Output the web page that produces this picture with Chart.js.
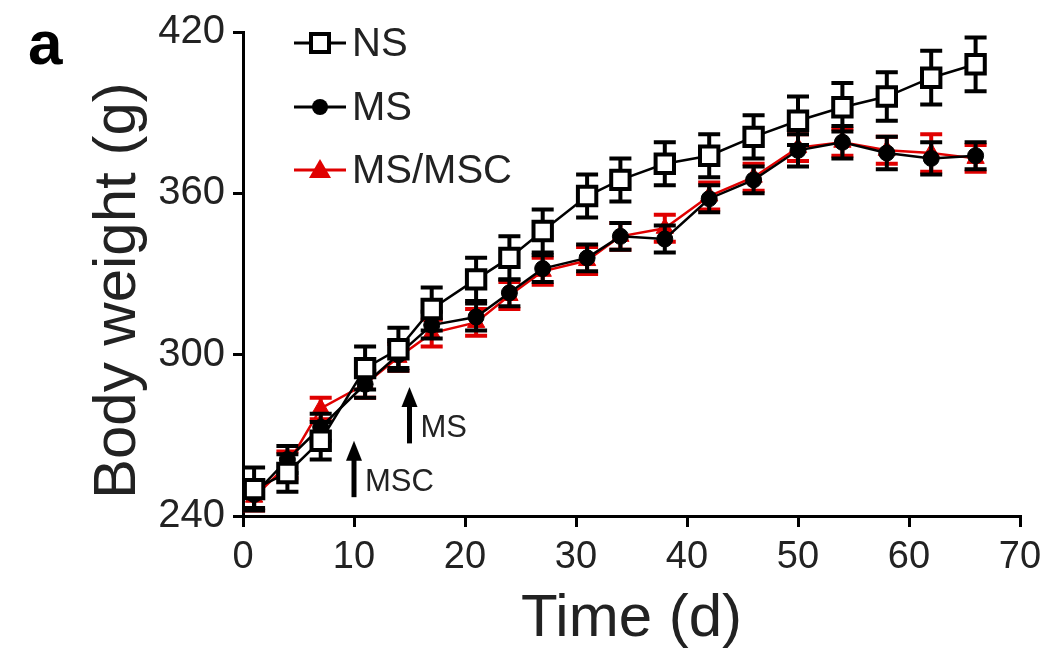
<!DOCTYPE html>
<html>
<head>
<meta charset="utf-8">
<script src="https://cdn.jsdelivr.net/npm/chart.js@4.4.1/dist/chart.umd.min.js"></script>
<style>
  body { margin: 0; background: #fff; }
  #wrap { width: 1053px; height: 657px; }
</style>
</head>
<body>
<div id="wrap"><canvas id="weightChart" width="1053" height="657"></canvas></div>
<script>
// body weight (g) by day
const days = [1, 4, 7, 11, 14, 17, 21, 24, 27, 31, 34, 38, 42, 46, 50, 54, 58, 62, 66];
const nsWeight = [250, 256, 268, 295, 302, 317, 328, 336, 346, 359, 365, 371, 374, 381, 387, 392, 396, 403, 408];
const nsErr = [8, 7, 7, 8, 8, 8, 8, 8, 8, 8, 8, 8, 8, 8, 9, 9, 9, 10, 10];
const msWeight = [248, 261, 273, 289, 300, 311, 314, 323, 332, 336, 344, 343, 358, 365, 376, 379, 375, 373, 374];
const msErr = [5, 5, 5, 5, 5, 5, 5, 5, 5, 5, 5, 5, 5, 5, 6, 6, 6, 6, 5];
const mscWeight = [247, 259, 280, 289, 299, 308, 312, 322, 331, 335, 344, 347, 359, 366, 377, 379, 376, 375, 373];
const mscErr = [5, 5, 4, 5, 5, 5, 5, 5, 5, 5, 5, 5, 5, 5, 5, 5, 5, 7, 5];

const xTicks = [0, 10, 20, 30, 40, 50, 60, 70];
const yTicks = [240, 300, 360, 420];

// treatment arrows (day, arrow tip, arrow tail, label)
const arrowDays = [10, 15];
const arrowTips = [268, 288];
const arrowTails = [247, 267];
const arrowLabels = ['MSC', 'MS'];

const FONT = '"Liberation Sans", Arial, Helvetica, sans-serif';

function toPoints(ys) {
    return days.map((d, i) => ({ x: d, y: ys[i] }));
}

// vertical error bars with caps, drawn under each dataset's line
const errorBars = {
    id: 'errorBars',
    beforeDatasetDraw(chart, args) {
        const ds = chart.data.datasets[args.index];
        const yScale = chart.scales.y;
        const ctx = chart.ctx;
        ctx.save();
        ctx.strokeStyle = ds.borderColor;
        ctx.lineWidth = 4;
        args.meta.data.forEach((pt, i) => {
            const v = ds.data[i].y;
            const e = ds.errors[i];
            const top = yScale.getPixelForValue(v + e);
            const bot = yScale.getPixelForValue(v - e);
            ctx.beginPath();
            ctx.moveTo(pt.x, top); ctx.lineTo(pt.x, bot);
            ctx.moveTo(pt.x - 11, top); ctx.lineTo(pt.x + 11, top);
            ctx.moveTo(pt.x - 11, bot); ctx.lineTo(pt.x + 11, bot);
            ctx.stroke();
        });
        ctx.restore();
    }
};

function drawMarker(ctx, style, x, y, color) {
    ctx.save();
    ctx.lineWidth = 4;
    ctx.strokeStyle = color;
    ctx.fillStyle = color;
    if (style === 'rect') {
        ctx.fillStyle = '#fff';
        ctx.fillRect(x - 9, y - 9, 18, 18);
        ctx.strokeRect(x - 9, y - 9, 18, 18);
    } else if (style === 'circle') {
        ctx.beginPath();
        ctx.arc(x, y, 8, 0, Math.PI * 2);
        ctx.fill();
    } else {
        ctx.beginPath();
        ctx.moveTo(x, y - 11);
        ctx.lineTo(x + 11, y + 8);
        ctx.lineTo(x - 11, y + 8);
        ctx.closePath();
        ctx.fill();
    }
    ctx.restore();
}

// legend, panel letter and treatment arrows
const extras = {
    id: 'extras',
    afterDraw(chart) {
        const ctx = chart.ctx;
        const xs = chart.scales.x;
        const ys = chart.scales.y;
        ctx.save();

        // panel letter
        ctx.fillStyle = '#000';
        ctx.font = 'bold 62px ' + FONT;
        ctx.textBaseline = 'alphabetic';
        ctx.textAlign = 'left';
        ctx.fillText('a', 28, 64);

        // legend
        const rows = [43, 107, 170];
        ctx.font = '40px ' + FONT;
        ctx.textBaseline = 'middle';
        chart.data.datasets.forEach((ds, i) => {
            const y = rows[i];
            ctx.strokeStyle = ds.borderColor;
            ctx.lineWidth = 3;
            ctx.beginPath();
            ctx.moveTo(294, y);
            ctx.lineTo(346, y);
            ctx.stroke();
            drawMarker(ctx, ds.pointStyle, 320, y, ds.borderColor);
            ctx.fillStyle = '#222';
            ctx.fillText(ds.label, 352, y + 2);
        });

        // arrows
        ctx.font = '31px ' + FONT;
        ctx.textBaseline = 'alphabetic';
        arrowDays.forEach((d, i) => {
            const x = xs.getPixelForValue(d);
            const tip = ys.getPixelForValue(arrowTips[i]);
            const tail = ys.getPixelForValue(arrowTails[i]);
            ctx.strokeStyle = '#000';
            ctx.fillStyle = '#000';
            ctx.lineWidth = 5;
            ctx.beginPath();
            ctx.moveTo(x, tail);
            ctx.lineTo(x, tip + 14);
            ctx.stroke();
            ctx.beginPath();
            ctx.moveTo(x, tip);
            ctx.lineTo(x + 8, tip + 20);
            ctx.lineTo(x - 8, tip + 20);
            ctx.closePath();
            ctx.fill();
            ctx.fillStyle = '#222';
            ctx.fillText(arrowLabels[i], x + 11, tail - 6);
        });
        ctx.restore();
    }
};

const ctx = document.getElementById('weightChart').getContext('2d');
new Chart(ctx, {
    type: 'line',
    data: {
        datasets: [{
            label: 'NS',
            data: toPoints(nsWeight),
            errors: nsErr,
            borderColor: '#000',
            borderWidth: 2.5,
            pointStyle: 'rect',
            pointRadius: 13,
            pointBorderWidth: 4,
            pointBackgroundColor: '#fff',
            pointBorderColor: '#000',
            order: 0
        }, {
            label: 'MS',
            data: toPoints(msWeight),
            errors: msErr,
            borderColor: '#000',
            borderWidth: 2.5,
            pointStyle: 'circle',
            pointRadius: 8,
            pointBorderWidth: 1,
            pointBackgroundColor: '#000',
            pointBorderColor: '#000',
            order: 1
        }, {
            label: 'MS/MSC',
            data: toPoints(mscWeight),
            errors: mscErr,
            borderColor: '#e00000',
            borderWidth: 2.5,
            pointStyle: 'triangle',
            pointRadius: 10,
            pointBorderWidth: 1,
            pointBackgroundColor: '#e00000',
            pointBorderColor: '#e00000',
            order: 2
        }]
    },
    options: {
        responsive: false,
        animation: false,
        layout: { padding: { top: 25, right: 33, left: 0, bottom: 0 } },
        plugins: {
            legend: { display: false },
            tooltip: { enabled: false }
        },
        scales: {
            x: {
                type: 'linear',
                min: 0,
                max: 70,
                afterFit: s => { s.height = 141; },
                afterBuildTicks: s => { s.ticks = xTicks.map(v => ({ value: v })); },
                border: { display: true, color: '#000', width: 3 },
                grid: { drawOnChartArea: false, drawTicks: true, tickLength: 11, color: '#000', lineWidth: 3 },
                ticks: { color: '#222', padding: 8, maxRotation: 0, font: { family: FONT, size: 38 } },
                title: { display: true, text: 'Time (d)', color: '#222', padding: { top: 0, bottom: 2 }, font: { family: FONT, size: 60 } }
            },
            y: {
                min: 240,
                max: 420,
                afterFit: s => { s.width = 243; },
                afterBuildTicks: s => { s.ticks = yTicks.map(v => ({ value: v })); },
                border: { display: true, color: '#000', width: 3 },
                grid: { drawOnChartArea: false, drawTicks: true, tickLength: 10, color: '#000', lineWidth: 3 },
                ticks: { color: '#222', padding: 8, font: { family: FONT, size: 40 } },
                title: { display: true, text: 'Body weight (g)  ', color: '#222', padding: { top: 82, bottom: 0 }, font: { family: FONT, size: 60 } }
            }
        }
    },
    plugins: [errorBars, extras]
});
</script>
</body>
</html>
